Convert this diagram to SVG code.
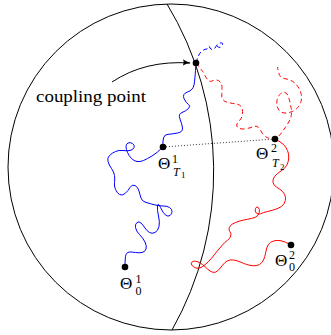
<svg xmlns="http://www.w3.org/2000/svg" width="331" height="335" viewBox="0 0 331 335">
<style>
.frame{fill:none;stroke:#000;stroke-width:1}
.blue{fill:none;stroke:#0000ff;stroke-width:1;stroke-linecap:round;stroke-linejoin:round}
.red{fill:none;stroke:#ff0000;stroke-width:1;stroke-linecap:round;stroke-linejoin:round}
.dash{stroke-dasharray:4.5 3;stroke-linecap:butt}
.dot{fill:#000}
text{font-family:"Liberation Serif","Times New Roman",serif;fill:#000}
.lbl{font-size:17px}
.sm{font-size:12px}
.xs{font-size:9px}
</style>
<defs>
<marker id="ah" viewBox="0 0 10 8" refX="9" refY="4" markerWidth="8" markerHeight="6.4" orient="auto" markerUnits="userSpaceOnUse">
<path d="M0,0 Q4,3 10,4 Q4,5 0,8 Q2,4 0,0 z" fill="#000"/>
</marker>
</defs>
<g id="sphere">
<circle class="frame" cx="171" cy="167" r="163"/>
<path class="frame" d="M167,4 A323,323 0 0 1 172,330"/>
</g>
<g id="connectors">
<path class="blue" d="M196,63 Q195,80 194,85 Q193,90 187.5,92 Q182,94 184,98.5 Q186,103 188.5,104.5 Q191,106 188.5,108.5 Q186,111 182,112.5 Q178,114 180,119 Q182,124 182.5,128 Q183,132 177.5,133 Q172,134 167,134.5 Q162,135 163,147"/>
<path class="blue" d="M163,147 Q157,153 152,156 Q147,159 143.5,160.5 Q140,162 137,161.5 Q134,161 131.5,158.5 Q129,156 127.5,152.5 Q126,149 126,146.5 Q126,144 128,143 Q130,142 132.5,143.5 Q135,145 134,147.5 Q133,150 130,150.5 Q127,151 123,150.5 Q119,150 115.5,151.5 Q112,153 109.5,155.5 Q107,158 108,161.5 Q109,165 111.5,168.5 Q114,172 114.5,175.5 Q115,179 114.5,182.5 Q114,186 115.5,189.5 Q117,193 119.5,194.5 Q122,196 125,193.5 Q128,191 130,187.5 Q132,184 135,185.5 Q138,187 139,191 Q140,195 141,198 Q142,201 145,202 Q148,203 151.5,204 Q155,205 158,205.5 Q161,206 164,206 Q167,206 169.5,207.5 Q172,209 172,211.5 Q172,214 170,215.5 Q168,217 165.5,215 Q163,213 160.5,207.5 Q158,202 157.5,206 Q157,210 158.5,216 Q160,222 159,226.5 Q158,231 155,232.5 Q152,234 149.5,232.5 Q147,231 145,228 Q143,225 141,223 Q139,221 137,222.5 Q135,224 135.5,227.5 Q136,231 139.5,234.5 Q143,238 145,242 Q147,246 146,249 Q145,252 142,252.5 Q139,253 135.5,252.5 Q132,252 129.5,252 Q127,252 126,254.5 Q125,257 125,267"/>
<path class="blue dash" d="M196,63 Q198,55 201,52 Q204,49 207,49 Q209,44 210,48 Q212,51 215,48 Q217,44 220,43 Q224,42 222,46 Q220,49 217,46"/>
<path class="red" d="M275,139 Q281,142 283.5,144.5 Q286,147 287.5,150.5 Q289,154 288.75,158 Q288.5,162 286.75,165.25 Q285,168.5 281,171 Q277,173.5 274.75,176.25 Q272.5,179 273,182.25 Q273.5,185.5 276.75,187.25 Q280,189 282.5,191.5 Q285,194 285.5,197.25 Q286,200.5 284,203.75 Q282,207 277,208.75 Q272,210.5 267.5,211.5 Q263,212.5 260.5,213.75 Q258,215 256.25,213 Q254.5,211 255.5,208.5 Q256.5,206 258.25,207.5 Q260,209 259.25,212.5 Q258.5,216 255.25,217.25 Q252,218.5 247.5,219.25 Q243,220 239,221.25 Q235,222.5 232.5,224 Q230,225.5 229.25,227.75 Q228.5,230 230,231.75 Q231.5,233.5 230.75,236 Q230,238.5 227.5,240.25 Q225,242 221.5,246 Q218,250 214.75,254.25 Q211.5,258.5 208.25,261.75 Q205,265 202,267 Q199,269 196,268 Q193,267 191.75,265 Q190.5,263 192.25,261.75 Q194,260.5 197,261.5 Q200,262.5 202.5,264.5 Q205,266.5 207.5,269 Q210,271.5 212.75,272.25 Q215.5,273 217.75,270.75 Q220,268.5 222.5,265.25 Q225,262 227.5,260.75 Q230,259.5 233.5,260 Q237,260.5 240.25,262 Q243.5,263.5 246.75,264.5 Q250,265.5 253.5,265.75 Q257,266 259.5,264.5 Q262,263 263.5,260 Q265,257 265.75,252.25 Q266.5,247.5 268.25,244.75 Q270,242 273.5,241 Q277,240 281,240.75 Q285,241.5 291,245"/>
<path class="red dash" d="M196,63 Q200,68 201.75,70.25 Q203.5,72.5 205,75.5 Q206.5,78.5 208.25,80.25 Q210,82 212,81 Q214,80 216.25,80 Q218.5,80 220.25,82 Q222,84 222,87.75 Q222,91.5 221.75,94.75 Q221.5,98 223.25,100 Q225,102 229,102.75 Q233,103.5 236.5,104 Q240,104.5 241.5,107.25 Q243,110 242.5,114 Q242,118 239.5,120.5 Q237,123 236.75,125 Q236.5,127 239,128.25 Q241.5,129.5 245.75,128.75 Q250,128 253.25,126.75 Q256.5,125.5 258.25,127.25 Q260,129 261.5,132 Q263,135 265.75,136.75 Q268.5,138.5 271.75,139 Q275,139.5 277.5,137.25 Q280,135 281.75,132.5 Q283.5,130 285.25,127.5 Q287,125 288.75,122 Q290.5,119 291.25,115.5 Q292,112 291.25,108.5 Q290.5,105 289.75,101.5 Q289,98 287.75,95.25 Q286.5,92.5 284.25,92.25 Q282,92 279.75,94.5 Q277.5,97 277,100.5 Q276.5,104 277.5,107.25 Q278.5,110.5 281.25,112 Q284,113.5 287,113 Q290,112.5 292.75,111.25 Q295.5,110 297.75,107.5 Q300,105 301,101.5 Q302,98 301.25,94.5 Q300.5,91 298.75,88 Q297,85 294.75,83 Q292.5,81 289.75,80 Q287,79 284,78.5 Q281,78 279.75,75.5 Q278.5,73 277.5,67"/>
<path d="M163,147 L275,139" fill="none" stroke="#000" stroke-width="0.8" stroke-dasharray="1 2"/>
<path d="M112,82 Q145,60 190,63" fill="none" stroke="#000" stroke-width="1" marker-end="url(#ah)"/>
</g>
<g id="coupling-point">
<circle class="dot" cx="196" cy="63" r="3.3"/>
<text x="36" y="101.5" font-size="16" textLength="110" lengthAdjust="spacingAndGlyphs">coupling point</text>
</g>
<g id="theta1-T1">
<circle class="dot" cx="163" cy="147" r="3.3"/>
<text class="lbl" x="158" y="168.5">Θ</text>
<text class="sm" x="172" y="162.5">1</text>
<text class="sm" x="173" y="175.5" font-style="italic">T</text>
<text class="xs" x="181" y="178">1</text>
</g>
<g id="theta2-T2">
<circle class="dot" cx="275" cy="139" r="3.3"/>
<text class="lbl" x="256" y="159">Θ</text>
<text class="sm" x="271" y="152">2</text>
<text class="sm" x="272" y="166.5" font-style="italic">T</text>
<text class="xs" x="280" y="170">2</text>
</g>
<g id="theta2-0">
<circle class="dot" cx="291" cy="245" r="3.3"/>
<text class="lbl" x="275" y="265.5">Θ</text>
<text class="sm" x="289" y="258.5">2</text>
<text class="sm" x="289" y="271">0</text>
</g>
<g id="theta1-0">
<circle class="dot" cx="125" cy="267" r="3.3"/>
<text class="lbl" x="120" y="288.5">Θ</text>
<text class="sm" x="135.5" y="282.5">1</text>
<text class="sm" x="135.5" y="295">0</text>
</g>
</svg>
